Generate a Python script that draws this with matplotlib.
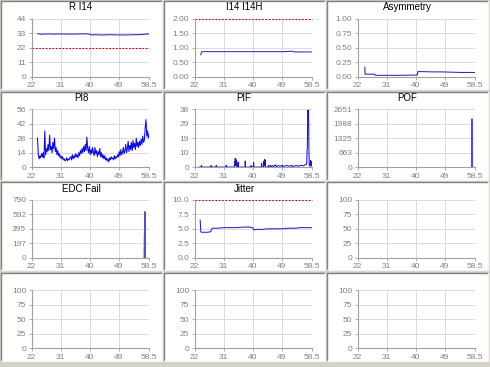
import matplotlib
matplotlib.use('Agg')
import matplotlib.pyplot as plt
import numpy as np
from matplotlib.patches import Rectangle
from matplotlib.lines import Line2D

plt.rcParams['font.family'] = ['Liberation Sans', 'DejaVu Sans']

# x axis shared by all panels
x_ticks = [22, 31, 40, 49, 58.5]
x_labels = ['22', '31', '40', '49', '58.5']

# R I14
ri14_x = [23.9, 25, 27, 29, 31, 33, 35, 37, 39, 40, 40.5, 42, 44, 46, 48, 50, 52, 54, 56, 57.5, 58.5]
ri14_y = [32.6, 32.2, 32.4, 32.3, 32.4, 32.3, 32.3, 32.4, 32.5, 32.2, 31.7, 31.8, 31.6, 31.8,
          31.7, 31.6, 31.7, 31.8, 31.9, 32.2, 32.5]
ri14_limit = 22

# I14 I14H
i14_x = [23.9, 24.1, 24.3, 26, 30, 35, 40, 45, 50, 51.5, 52, 52.5, 53, 55, 58.5]
i14_y = [0.75, 0.84, 0.86, 0.86, 0.86, 0.86, 0.86, 0.86, 0.86, 0.87, 0.88, 0.86, 0.85, 0.85, 0.85]
i14_limit = 2.0

# Asymmetry
asym_x = [24.2, 24.3, 24.5, 27.3, 27.5, 30, 35, 40.5, 40.7, 42, 45, 48, 51, 54, 58.5]
asym_y = [0.16, 0.04, 0.04, 0.04, 0.02, 0.02, 0.02, 0.025, 0.085, 0.085, 0.08, 0.08, 0.075, 0.07, 0.07]

# PI8 (sampled from 23.8 to 58.5)
pi8_y = [28, 12, 8, 11, 9, 13, 10,
         14, 9, 35, 12, 18, 15,
         22, 16, 31, 17, 20, 14, 24, 18,
         28, 15, 19, 12, 16, 11,
         13, 9, 11, 8, 10, 7,
         8, 6, 7, 9, 6, 8, 7, 9,
         10, 7, 12, 8, 11, 9, 13, 10,
         12, 9, 14, 11, 16, 13, 18, 14,
         20, 15, 22, 16, 29, 18,
         14, 20, 12, 17, 13, 19,
         14, 11, 19, 13, 16, 10, 15, 12,
         18, 10, 14, 9, 12, 8, 11, 7,
         9, 6, 8, 5, 9, 7, 10, 8,
         9, 7, 11, 8, 10, 9, 12, 10,
         15, 11, 17, 12, 14, 19, 13, 16,
         22, 14, 18, 25, 15, 21, 17, 24,
         16, 26, 19, 23, 17, 28, 20, 24,
         19, 25, 21, 27, 22, 30, 24, 26,
         38, 46, 30, 35, 28, 32]
pi8_x = np.linspace(23.8, 58.5, len(pi8_y))

# PIF
pif_x = [23.5, 24.0, 24.1, 24.2,
         27.0, 27.1, 27.2,
         28.6, 28.7, 28.8,
         31.7, 31.8, 31.9,
         34.3, 34.4, 34.5, 34.6, 34.7, 34.8, 34.9, 35.0, 35.1, 35.4, 35.5, 35.6,
         37.6, 37.7, 37.8,
         39.4, 39.5, 39.6,
         40.2, 40.3, 40.4,
         42.7, 42.8, 42.9, 43.4, 43.5, 43.6, 43.7, 43.8, 43.9, 44.0,
         44.8, 44.9, 45.0, 45.6, 45.7, 46.3, 46.4, 47.2, 47.3, 48.0, 48.5, 49.2, 49.3,
         50.0, 50.8, 51.5, 52.2, 52.3, 53.0, 53.6, 54.3, 55.0, 55.7, 56.3, 56.8,
         56.9, 57.0, 57.1, 57.2, 57.3, 57.4, 57.5, 57.6, 57.9, 58.0, 58.1, 58.2, 58.3, 58.5]
pif_y = [0, 0, 1.2, 0,
         0, 1.0, 0,
         0, 1.0, 0,
         0, 1.2, 0,
         0, 3.5, 1, 5.8, 2, 5.0, 1, 4.0, 0, 0, 3.2, 0,
         0, 4.0, 0,
         0, 1.0, 0,
         0, 3.0, 0,
         0, 2.5, 0, 0, 4.0, 1, 5.0, 1, 4.5, 0,
         0, 1.0, 0.3, 1.2, 0.2, 1.0, 0.3, 1.5, 0.3, 1.0, 0.5, 1.2, 0.3,
         0.8, 1.0, 0.5, 1.2, 0.3, 0.8, 1.0, 0.6, 1.2, 0.8, 1.5, 2.0,
         11.5, 12, 36, 37.5, 35, 30, 8, 1, 0.5, 4.3, 2.5, 3.5, 1.0, 0.5]

# POF
pof_x = [57.3, 57.45, 57.5, 57.55, 57.6, 57.65, 57.7]
pof_y = [0, 0, 2220, 0, 1120, 1120, 0]

# EDC Fail
edc_x = [56.9, 57.0, 57.05, 57.1, 57.15, 57.2, 57.25]
edc_y = [0, 335, 335, 0, 0, 630, 0]

# Jitter
jit_x = [23.7, 23.9, 24.1, 25, 26, 27, 27.3, 27.6, 29, 31, 33, 35, 37, 39, 40, 40.4, 41,
         43, 45, 47, 49, 51, 53, 55, 57, 58.5]
jit_y = [6.5, 4.5, 4.4, 4.4, 4.4, 4.5, 5.0, 5.1, 5.1, 5.2, 5.2, 5.2, 5.3, 5.3, 5.2, 4.8, 4.9,
         4.9, 5.0, 5.0, 5.0, 5.1, 5.1, 5.2, 5.2, 5.2]
jit_limit = 10.0

titles = ['R I14', 'I14 I14H', 'Asymmetry', 'PI8', 'PIF', 'POF',
          'EDC Fail', 'Jitter', '', '', '', '']
y_ticks = [[0, 11, 22, 33, 44], [0, 0.5, 1.0, 1.5, 2.0], [0, 0.25, 0.5, 0.75, 1.0],
           [0, 14, 28, 42, 56], [0, 9.5, 19, 28.5, 38], [0, 662.75, 1325.5, 1988.25, 2651],
           [0, 197.5, 395, 592.5, 790], [0, 2.5, 5.0, 7.5, 10.0]] + [[0, 25, 50, 75, 100]] * 4
y_labels = [['0', '11', '22', '33', '44'], ['0.00', '0.50', '1.00', '1.50', '2.00'],
            ['0.00', '0.25', '0.50', '0.75', '1.00'], ['0', '14', '28', '42', '56'],
            ['0', '10', '19', '29', '38'], ['0', '663', '1325', '1988', '2651'],
            ['0', '197', '395', '592', '790'], ['0.0', '2.5', '5.0', '7.5', '10.0']] + \
           [['0', '25', '50', '75', '100']] * 4
series = [(ri14_x, ri14_y), (i14_x, i14_y), (asym_x, asym_y), (pi8_x, pi8_y),
          (pif_x, pif_y), (pof_x, pof_y), (edc_x, edc_y), (jit_x, jit_y)]
line_colors = ['#2828b4', '#3030b8', '#2828b4', '#0a0ae6', '#1414d2', '#5050c8', '#5050c8', '#2020c8']
limits = {0: ri14_limit, 1: i14_limit, 7: jit_limit}

W, H = 490, 367
fig = plt.figure(figsize=(4.9, 3.67), dpi=100, facecolor='#d4d0c8')


def fx(px):
    return px / W


def fy(py):
    return 1 - py / H


for i in range(12):
    r, c = divmod(i, 3)
    ox, oy = 163 * c, 90.6 * r
    # panel frame, kept behind the axes
    fig.patches.append(Rectangle((fx(ox + 1), fy(oy + 89)), 161 / W, 88 / H,
                                 transform=fig.transFigure, facecolor='white',
                                 edgecolor='none', zorder=-10))
    fig.lines.append(Line2D([fx(ox + 1), fx(ox + 1), fx(ox + 162)],
                            [fy(oy + 89), fy(oy + 1), fy(oy + 1)],
                            transform=fig.transFigure, color='#808080', lw=1, zorder=-9))
    fig.lines.append(Line2D([fx(ox + 1), fx(ox + 162), fx(ox + 162)],
                            [fy(oy + 89), fy(oy + 89), fy(oy + 1)],
                            transform=fig.transFigure, color='#f4f4f4', lw=1, zorder=-9))

    ax = fig.add_axes([fx(ox + 31.7), fy(oy + 18.7 + 57.8), 117.5 / W, 57.8 / H])
    ax.set_facecolor('white')
    ax.set_xlim(22, 58.5)
    yt = y_ticks[i]
    ax.set_ylim(yt[0], yt[-1])
    ax.set_xticks(x_ticks)
    ax.set_xticklabels(x_labels)
    ax.set_yticks(yt)
    ax.set_yticklabels(y_labels[i])
    ax.grid(True, color='#dadada', lw=0.7)
    ax.set_axisbelow(True)
    for s in ['top', 'right']:
        ax.spines[s].set_visible(False)
    for s in ['left', 'bottom']:
        ax.spines[s].set_color('#a0a0a0')
        ax.spines[s].set_linewidth(0.8)
    ax.tick_params(labelsize=6, labelcolor='#808080', color='#a0a0a0',
                   length=2.5, width=0.6, pad=1.5)

    if i in limits:
        ax.axhline(limits[i], color='#cc0000', lw=0.8, ls=(0, (1.5, 1.5)), clip_on=False)
    if i < len(series):
        sx, sy = series[i]
        ax.plot(sx, sy, color=line_colors[i], lw=0.75)

    if titles[i]:
        fig.text(fx(ox + 81), fy(oy + 7.5), titles[i], ha='center', va='center',
                 fontsize=7, color='black')

fig.savefig('out.png', dpi=100, facecolor=fig.get_facecolor())
